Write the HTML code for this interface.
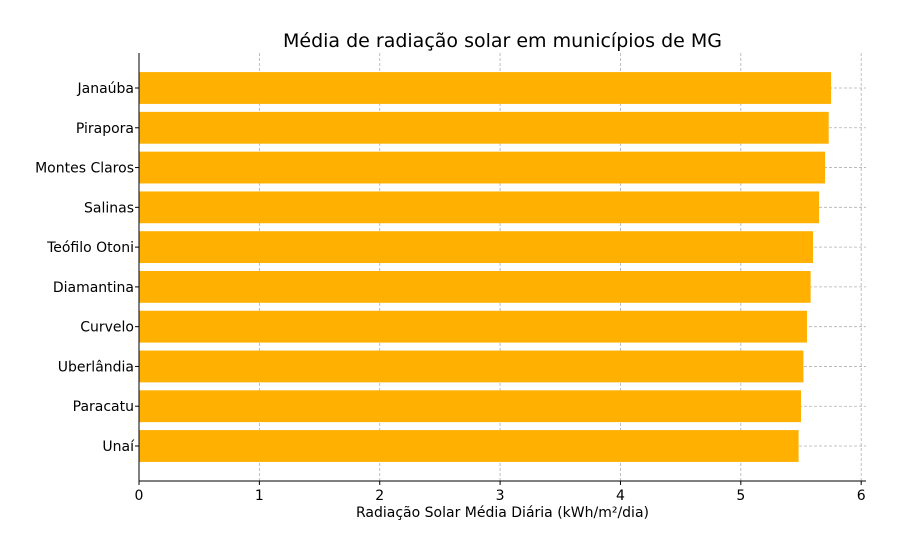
<!DOCTYPE html>
<html><head><meta charset="utf-8"><style>
body{margin:0;background:#fff;font-family:"Liberation Sans","DejaVu Sans",sans-serif;}
svg text{font-family:"DejaVu Sans","Liberation Sans",sans-serif;}
</style></head><body>
<svg id="chart" width="900" height="550"></svg>
<script>
const categories=["Janaúba","Pirapora","Montes Claros","Salinas","Teófilo Otoni","Diamantina","Curvelo","Uberlândia","Paracatu","Unaí"];
const values=[5.75,5.73,5.70,5.65,5.60,5.58,5.55,5.52,5.50,5.48];
const ticks=[0,1,2,3,4,5,6];
const NS="http://www.w3.org/2000/svg";
const svg=document.getElementById('chart');
const L=139,R=866,T=53,B=481,xmax=6.04;
const x=v=>L+v/xmax*(R-L);
const n=categories.length;
const step=(446-88)/(n-1);
const y=i=>88+step*i;
function mk(t,a,p){const e=document.createElementNS(NS,t);for(const k in a)e.setAttribute(k,a[k]);(p||svg).appendChild(e);return e;}
ticks.forEach(t=>{const g=mk('line',{x1:x(t),x2:x(t),y1:T,y2:B,stroke:'#b0b0b0','stroke-dasharray':'3,2','stroke-width':0.8});

});
categories.forEach((c,i)=>{const g=mk('line',{x1:L,x2:R,y1:y(i),y2:y(i),stroke:'#b0b0b0','stroke-dasharray':'3,2','stroke-width':0.8});

});
categories.forEach((c,i)=>{const h=step*0.8;
const b=mk('rect',{x:L,y:y(i)-h/2,width:x(values[i])-L,height:h,fill:'#ffb000'});


const t=mk('text',{x:L-5,y:y(i)+5,'text-anchor':'end','font-size':14,fill:'#000'});t.textContent=c;


mk('line',{x1:L-4,x2:L,y1:y(i),y2:y(i),stroke:'#000'});});
ticks.forEach(t=>{mk('line',{x1:x(t),x2:x(t),y1:B,y2:B+4,stroke:'#000'});
const l=mk('text',{x:x(t),y:B+19,'text-anchor':'middle','font-size':14,fill:'#000'});l.textContent=t;

});
const ax=mk('line',{x1:L,x2:L,y1:T,y2:B,stroke:'#000','stroke-width':1});


const bx=mk('line',{x1:L,x2:R,y1:B,y2:B,stroke:'#000','stroke-width':1});


const xt=mk('text',{x:(L+R)/2,y:517,'text-anchor':'middle','font-size':14,fill:'#000'});xt.textContent='Radiação Solar Média Diária (kWh/m²/dia)';


const ti=mk('text',{x:(L+R)/2,y:47,'text-anchor':'middle','font-size':19,fill:'#000'});ti.textContent='Média de radiação solar em municípios de MG';


</script>
</body></html>
